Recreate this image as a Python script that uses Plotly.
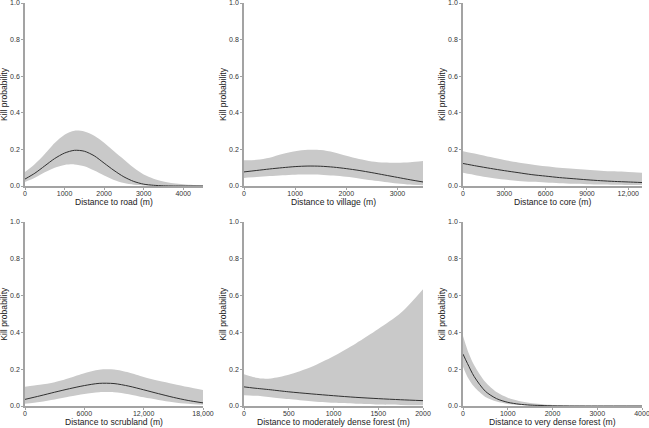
import plotly.graph_objects as go

# ---------------- data ----------------
road_x = [0, 250, 500, 750, 1000, 1250, 1500, 1750, 2000, 2250, 2500, 2750, 3000, 3250, 3500, 3750, 4000, 4250, 4500]
road_mean = [0.038, 0.07, 0.11, 0.15, 0.18, 0.195, 0.19, 0.165, 0.125, 0.085, 0.05, 0.025, 0.01, 0.004, 0.001, 0.0, 0.0, 0.0, 0.0]
road_upper = [0.076, 0.12, 0.175, 0.235, 0.28, 0.302, 0.298, 0.275, 0.237, 0.19, 0.145, 0.1, 0.063, 0.04, 0.025, 0.015, 0.009, 0.005, 0.003]
road_lower = [0.022, 0.045, 0.075, 0.1, 0.115, 0.118, 0.108, 0.085, 0.058, 0.033, 0.016, 0.007, 0.003, 0.001, 0.0, 0.0, 0.0, 0.0, 0.0]

village_x = [0, 250, 500, 750, 1000, 1250, 1500, 1750, 2000, 2250, 2500, 2750, 3000, 3250, 3500]
village_mean = [0.077, 0.085, 0.093, 0.1, 0.106, 0.109, 0.108, 0.103, 0.095, 0.085, 0.073, 0.06, 0.047, 0.034, 0.022]
village_upper = [0.141, 0.143, 0.155, 0.175, 0.19, 0.198, 0.197, 0.185, 0.165, 0.147, 0.134, 0.128, 0.127, 0.13, 0.136]
village_lower = [0.044, 0.049, 0.054, 0.059, 0.062, 0.063, 0.062, 0.057, 0.05, 0.041, 0.031, 0.022, 0.014, 0.008, 0.004]

core_x = [0, 1000, 2000, 3000, 4000, 5000, 6000, 7000, 8000, 9000, 10000, 11000, 12000, 13000]
core_mean = [0.123, 0.109, 0.096, 0.084, 0.073, 0.062, 0.054, 0.046, 0.04, 0.034, 0.029, 0.025, 0.022, 0.019]
core_upper = [0.19, 0.175, 0.158, 0.142, 0.129, 0.118, 0.108, 0.1, 0.094, 0.089, 0.084, 0.08, 0.077, 0.073]
core_lower = [0.072, 0.058, 0.045, 0.035, 0.028, 0.023, 0.019, 0.015, 0.012, 0.01, 0.008, 0.007, 0.006, 0.005]

scrub_x = [0, 1500, 3000, 4500, 6000, 7500, 9000, 10500, 12000, 13500, 15000, 16500, 18000]
scrub_mean = [0.036, 0.055, 0.075, 0.094, 0.111, 0.123, 0.122, 0.108, 0.088, 0.067, 0.047, 0.03, 0.017]
scrub_upper = [0.105, 0.115, 0.129, 0.152, 0.178, 0.197, 0.198, 0.182, 0.158, 0.137, 0.12, 0.103, 0.087]
scrub_lower = [0.012, 0.022, 0.036, 0.051, 0.065, 0.075, 0.075, 0.064, 0.047, 0.033, 0.021, 0.012, 0.007]

mdf_x = [0, 100, 200, 300, 500, 750, 1000, 1250, 1500, 1750, 2000]
mdf_mean = [0.104, 0.098, 0.093, 0.088, 0.077, 0.066, 0.056, 0.047, 0.04, 0.034, 0.029]
mdf_upper = [0.173, 0.158, 0.149, 0.15, 0.17, 0.212, 0.27, 0.34, 0.418, 0.505, 0.635]
mdf_lower = [0.058, 0.056, 0.053, 0.048, 0.038, 0.026, 0.017, 0.012, 0.008, 0.006, 0.004]

vdf_x = [0, 100, 250, 500, 750, 1000, 1250, 1500, 2000, 2500, 3000, 4000]
vdf_mean = [0.282, 0.231, 0.16, 0.08, 0.04, 0.02, 0.01, 0.005, 0.001, 0.0, 0.0, 0.0]
vdf_upper = [0.38, 0.305, 0.222, 0.131, 0.076, 0.045, 0.027, 0.016, 0.005, 0.001, 0.0, 0.0]
vdf_lower = [0.213, 0.158, 0.104, 0.049, 0.024, 0.011, 0.005, 0.002, 0.0, 0.0, 0.0, 0.0]

y_tickvals = [0, 0.2, 0.4, 0.6, 0.8, 1.0]
y_ticktext = ["0.0", "0.2", "0.4", "0.6", "0.8", "1.0"]

panels = [
    dict(x=road_x, m=road_mean, u=road_upper, l=road_lower, rng=[0, 4500],
         tv=[0, 1000, 2000, 3000, 4000], tt=["0", "1000", "2000", "3000", "4000"],
         title="Distance to road (m)"),
    dict(x=village_x, m=village_mean, u=village_upper, l=village_lower, rng=[0, 3500],
         tv=[0, 1000, 2000, 3000], tt=["0", "1000", "2000", "3000"],
         title="Distance to village (m)"),
    dict(x=core_x, m=core_mean, u=core_upper, l=core_lower, rng=[0, 13000],
         tv=[0, 3000, 6000, 9000, 12000], tt=["0", "3000", "6000", "9000", "12,000"],
         title="Distance to core (m)"),
    dict(x=scrub_x, m=scrub_mean, u=scrub_upper, l=scrub_lower, rng=[0, 18000],
         tv=[0, 6000, 12000, 18000], tt=["0", "6000", "12,000", "18,000"],
         title="Distance to scrubland (m)"),
    dict(x=mdf_x, m=mdf_mean, u=mdf_upper, l=mdf_lower, rng=[0, 2000],
         tv=[0, 500, 1000, 1500, 2000], tt=["0", "500", "1000", "1500", "2000"],
         title="Distance to moderately dense forest (m)"),
    dict(x=vdf_x, m=vdf_mean, u=vdf_upper, l=vdf_lower, rng=[0, 4000],
         tv=[0, 1000, 2000, 3000, 4000], tt=["0", "1000", "2000", "3000", "4000"],
         title="Distance to very dense forest (m)"),
]

# ---------------- layout geometry ----------------
W, H = 649, 428
col_px = [(25, 203), (244, 423), (463, 642)]
row_px = [(3, 186), (222, 406)]
xtitle_y_px = [202.2, 422.2]
ytitle_y_px = [94, 313.7]

FONT = "Liberation Sans, Arial, sans-serif"
AXIS_COLOR = "#a3a3a3"
BAND_COLOR = "#c9c9c9"
LINE_COLOR = "#303030"

fig = go.Figure()
layout = dict(
    width=W, height=H, margin=dict(l=0, r=0, t=0, b=0, autoexpand=False),
    paper_bgcolor="white", plot_bgcolor="white", showlegend=False,
    font=dict(family=FONT, color="#333333"),
)
annotations = []

for i, p in enumerate(panels):
    r, c = divmod(i, 3)
    n = "" if i == 0 else str(i + 1)
    xa, ya = "x" + n, "y" + n
    x0, x1 = col_px[c]
    y0, y1 = row_px[r]
    common = dict(showline=True, linecolor=AXIS_COLOR, linewidth=1.5,
                  ticks="outside", ticklen=2, tickwidth=1, tickcolor=AXIS_COLOR,
                  showgrid=False, zeroline=False, automargin=False,
                  ticklabeloverflow="allow",
                  tickfont=dict(size=7, color="#333333", family=FONT))
    layout["xaxis" + n] = dict(domain=[x0 / W, x1 / W], range=p["rng"], anchor=ya,
                               tickmode="array", tickvals=p["tv"], ticktext=p["tt"],
                               ticklabelstandoff=-2, **common)
    layout["yaxis" + n] = dict(domain=[1 - y1 / H, 1 - y0 / H], range=[0, 1], anchor=xa,
                               tickmode="array", tickvals=y_tickvals, ticktext=y_ticktext, **common)

    fig.add_trace(go.Scatter(x=p["x"], y=p["l"], mode="lines", xaxis=xa, yaxis=ya,
                             line=dict(width=0, color=BAND_COLOR, shape="spline", smoothing=0.8),
                             hoverinfo="skip"))
    fig.add_trace(go.Scatter(x=p["x"], y=p["u"], mode="lines", xaxis=xa, yaxis=ya,
                             fill="tonexty", fillcolor=BAND_COLOR,
                             line=dict(width=0, color=BAND_COLOR, shape="spline", smoothing=0.8),
                             hoverinfo="skip"))
    fig.add_trace(go.Scatter(x=p["x"], y=p["m"], mode="lines", xaxis=xa, yaxis=ya,
                             line=dict(width=1, color=LINE_COLOR, shape="spline", smoothing=0.8)))

    annotations.append(dict(text=p["title"], xref="paper", yref="paper",
                            x=(x0 + x1) / 2 / W, y=1 - xtitle_y_px[r] / H,
                            xanchor="center", yanchor="middle", showarrow=False,
                            font=dict(size=8.6, color="#222222", family=FONT)))
    annotations.append(dict(text="Kill probability", xref="paper", yref="paper",
                            x=(x0 - 21) / W, y=1 - ytitle_y_px[r] / H, textangle=-90,
                            xanchor="center", yanchor="middle", showarrow=False,
                            font=dict(size=8.6, color="#222222", family=FONT)))

layout["annotations"] = annotations
fig.update_layout(**layout)
fig.write_html("out.html", config={"displayModeBar": False},
               post_script="document.body.style.margin='0';document.body.style.overflow='hidden';")
